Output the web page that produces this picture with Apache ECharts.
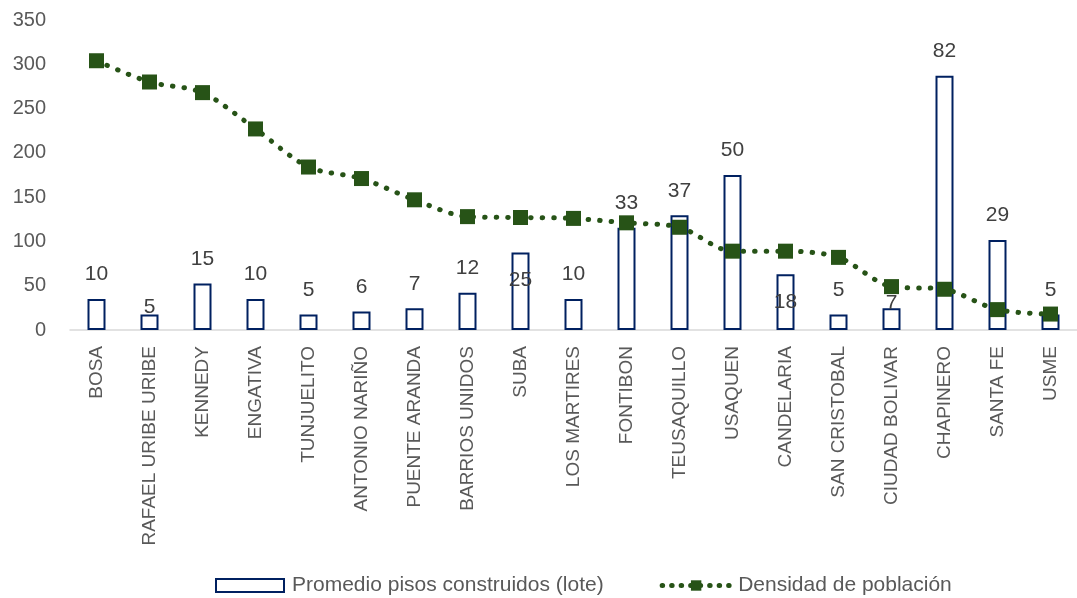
<!DOCTYPE html>
<html>
<head>
<meta charset="utf-8">
<script src="https://cdn.jsdelivr.net/npm/echarts@6/dist/echarts.min.js"></script>
<style>
  html, body { margin: 0; padding: 0; background: #fff; }
  #main { width: 1077px; height: 598px; }
</style>
</head>
<body>
<div id="main"></div>
<script>
// localidades
var categories = ['BOSA', 'RAFAEL URIBE URIBE', 'KENNEDY', 'ENGATIVA', 'TUNJUELITO', 'ANTONIO NARIÑO',
  'PUENTE ARANDA', 'BARRIOS UNIDOS', 'SUBA', 'LOS MARTIRES', 'FONTIBON', 'TEUSAQUILLO', 'USAQUEN',
  'CANDELARIA', 'SAN CRISTOBAL', 'CIUDAD BOLIVAR', 'CHAPINERO', 'SANTA FE', 'USME'];
var pisos = [10, 5, 15, 10, 5, 6, 7, 12, 25, 10, 33, 37, 50, 18, 5, 7, 82, 29, 5];
var densidad = [304, 280, 268, 227, 184, 171, 147, 128, 127, 126, 121, 116, 89, 89, 82, 49, 46, 23, 18];
var yTicks = [0, 50, 100, 150, 200, 250, 300, 350];

// algunas etiquetas quedan desplazadas en el original
var labelShift = { 1: 17, 8: 52, 13: 53, 15: 19 };

var txt = '#595959';
var verde = '#275317';
var font = 'Liberation Sans, Arial, sans-serif';

var myChart = echarts.init(document.getElementById('main'));
myChart.setOption({
  animation: false,
  textStyle: { fontFamily: font },
  grid: { left: 70, right: -11, top: 20, bottom: 268 },
  legend: {
    left: 210,
    top: 570,
    itemGap: 56,
    itemWidth: 68,
    itemHeight: 13,
    textStyle: { color: txt, fontSize: 21, fontFamily: font, padding: [0, 0, 0, 3] },
    data: [
      { name: 'Promedio pisos construidos (lote)', icon: 'rect' },
      { name: 'Densidad de población', lineStyle: { width: 5, type: [0.5, 9], cap: 'round', color: verde } }
    ]
  },
  xAxis: {
    type: 'category',
    data: categories,
    axisLine: { lineStyle: { color: '#d9d9d9', width: 1.5 } },
    axisTick: { show: false },
    axisLabel: { rotate: 90, interval: 0, color: txt, fontSize: 19, margin: 16 }
  },
  yAxis: [{
    type: 'value',
    min: yTicks[0],
    max: yTicks[yTicks.length - 1],
    interval: 50,
    axisLine: { show: false },
    axisTick: { show: false },
    splitLine: { show: false },
    axisLabel: { color: txt, fontSize: 20, margin: 24 }
  }, {
    type: 'value',
    min: 0,
    max: 100,
    show: false,
    splitLine: { show: false }
  }],
  series: [{
    name: 'Promedio pisos construidos (lote)',
    type: 'bar',
    yAxisIndex: 1,
    barWidth: 18,
    itemStyle: { color: '#ffffff', borderColor: '#002060', borderWidth: 2 },
    data: pisos.map(function (v, i) {
      var d = { value: v };
      if (labelShift[i]) d.label = { offset: [0, labelShift[i]] };
      return d;
    }),
    label: { show: true, position: 'top', distance: 14, color: '#404040', fontSize: 21 }
  }, {
    name: 'Densidad de población',
    type: 'line',
    smooth: 0.3,
    data: densidad,
    symbol: 'rect',
    symbolSize: 15,
    itemStyle: { color: verde },
    lineStyle: { color: verde, width: 5, type: [0.5, 11], cap: 'round' },
    z: 3
  }]
});
</script>
</body>
</html>
